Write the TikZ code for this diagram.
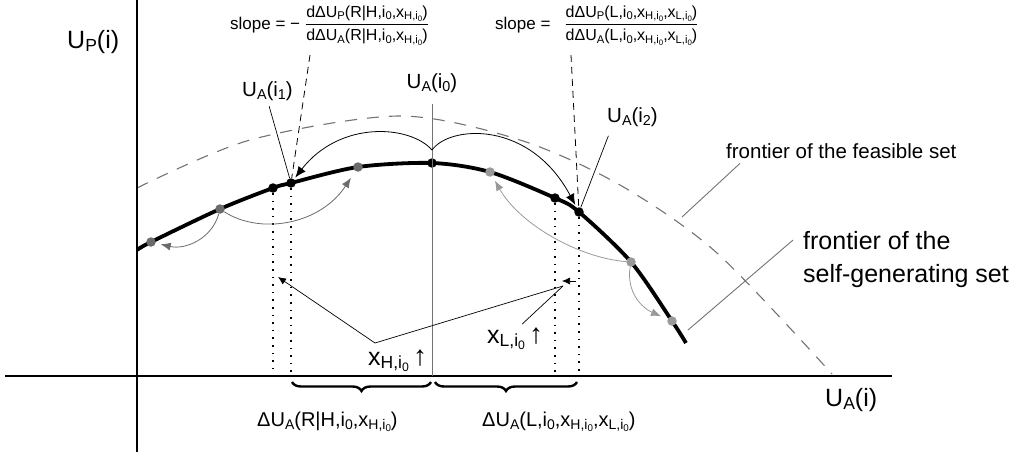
\documentclass[tikz,border=0pt]{standalone}
\usepackage{amsmath}
\usepackage{graphicx}
\usepackage{fontspec}
\setmainfont{Liberation Sans}
\usetikzlibrary{arrows.meta,decorations.pathreplacing,backgrounds}

\definecolor{dotdark}{gray}{0.42}
\definecolor{dotlight}{gray}{0.6}
\definecolor{linegray}{gray}{0.45}

\newcommand{\lo}[1]{\raisebox{-0.3ex}{\scalebox{0.7}{#1}}}
\newcommand{\fs}[1]{\fontsize{#1}{#1}\selectfont}

\begin{document}
\begin{tikzpicture}[x=1pt, y=-1pt,
    bdot/.style={circle, fill=black, inner sep=0pt, minimum size=9.5pt},
    gdot/.style={circle, fill=dotdark, inner sep=0pt, minimum size=9.5pt},
    ldot/.style={circle, fill=dotlight, inner sep=0pt, minimum size=9.5pt},
    axis/.style={line width=2.4pt},
    frontier/.style={line width=3.8pt, line join=round},
    feasible/.style={linegray, line width=1.1pt, dash pattern=on 12pt off 10pt},
    dotline/.style={line width=1.6pt, dash pattern=on 1.6pt off 6pt},
    hint/.style={line width=0.8pt, dash pattern=on 7pt off 5pt},
    jump/.style={-{Latex[length=11pt,width=9pt]}, line width=0.8pt},
    move/.style={-{Latex[length=10pt,width=8pt]}, line width=0.8pt},
    tip/.style={-{Latex[length=8pt,width=7pt]}, line width=0.7pt},
    pointer/.style={line width=0.7pt},
    gpointer/.style={linegray, line width=0.9pt},
    thinline/.style={linegray, line width=0.9pt},
    tag/.style={inner sep=0pt},
    brace/.style={decorate, decoration={brace, mirror, amplitude=9pt}, line width=2.4pt}
  ]
    \useasboundingbox (0,0) rectangle (1010,455);

    % Axes
    \coordinate (xa) at (5,376);
    \coordinate (xb) at (892,376);
    \coordinate (ya) at (137,0);
    \coordinate (yb) at (137,452);
    \draw[axis] (xa) -- (xb);
    \draw[axis] (ya) -- (yb);

    % Points on the frontier
    \node[gdot] (g1) at (151,242) {};
    \node[gdot] (g2) at (220,209) {};
    \node[bdot] (b1) at (273,188) {};
    \node[bdot] (b2) at (291,183) {};
    \node[gdot] (g3) at (358,167) {};
    \node[bdot] (top) at (432,163) {};
    \node[ldot] (g4) at (490,172) {};
    \node[bdot] (b3) at (555,198) {};
    \node[bdot] (b4) at (579,212) {};
    \node[ldot] (g5) at (631,262) {};
    \node[ldot] (g6) at (672,321) {};
    \coordinate (cs) at (137,250);
    \coordinate (ce) at (686,343);

    % Frontiers
    \begin{pgfonlayer}{background}
    \draw[feasible] plot[smooth] coordinates {(137,188) (250,140) (400,116) (520,140) (620,185) (717,253) (832,374)};
    \draw[frontier] plot[smooth] coordinates {(cs) (g1.center) (g2.center) (b1.center) (b2.center) (g3.center) (top.center) (g4.center) (b3.center) (b4.center) (g5.center) (g6.center) (ce)};
    \end{pgfonlayer}

    % Labels
    \node[tag, anchor=base west, font=\fs{25}] (up) at (67,48) {U\lo{P}(i)};
    \node[tag, anchor=base west, font=\fs{25}] (ua) at (825,406) {U\lo{A}(i)};
    \node[tag, anchor=base west, font=\fs{20.5}] (ui1) at (242,96) {U\lo{A}(i\lo{1})};
    \node[tag, anchor=base, font=\fs{20.5}] (ui0) at (432,88) {U\lo{A}(i\lo{0})};
    \node[tag, anchor=base west, font=\fs{20.5}] (ui2) at (607,122) {U\lo{A}(i\lo{2})};
    \node[tag, anchor=base west, font=\fs{20.5}] (feas) at (726,158) {frontier of the feasible set};
    \node[tag, anchor=base west, font=\fs{25}] (selfa) at (803,249) {frontier of the};
    \node[tag, anchor=base west, font=\fs{25}] (selfb) at (803,282) {self-generating set};
    \node[tag, anchor=base west, font=\fs{25}] (xh) at (368,365) {x\lo{H,i\lo{0}}\,{\fs{28}↑}};
    \node[tag, anchor=base west, font=\fs{25}] (xl) at (487,343) {x\lo{L,i\lo{0}}\,{\fs{28}↑}};
    \node[tag, anchor=base west, font=\fs{20}] (dh) at (257,426) {ΔU\lo{A}(R|H,i\lo{0},x\lo{H,i\lo{0}})};
    \node[tag, anchor=base west, font=\fs{20}] (dl) at (482,426) {ΔU\lo{A}(L,i\lo{0},x\lo{H,i\lo{0}},x\lo{L,i\lo{0}})};
    \node[tag, anchor=base west, font=\fs{17}] (sl1) at (230,29)
      {slope = −\hspace{5pt}{\fs{16}$\genfrac{}{}{0.9pt}{0}{\text{dΔU\lo{P}(R|H,i\lo{0},x\lo{H,i\lo{0}})}}{\text{dΔU\lo{A}(R|H,i\lo{0},x\lo{H,i\lo{0}})}}$}};
    \node[tag, anchor=base west, font=\fs{17}] (sl2) at (495,29)
      {slope =\hspace{14pt}{\fs{16}$\genfrac{}{}{0.9pt}{0}{\text{dΔU\lo{P}(L,i\lo{0},x\lo{H,i\lo{0}},x\lo{L,i\lo{0}})}}{\text{dΔU\lo{A}(L,i\lo{0},x\lo{H,i\lo{0}},x\lo{L,i\lo{0}})}}$}};

    % Label pointers
    \coordinate (d1) at (310,55);
    \coordinate (d2) at (571,55);
    \draw[hint] (d1) -- (b2);
    \draw[hint] (d2) -- (b4);
    \draw[pointer, shorten <=6pt] (ui1.south) -- (b2);
    \draw[pointer, shorten <=10pt] ([xshift=5pt]ui2.south west) -- (b4);
    \coordinate (fe) at (682,217);
    \coordinate (se) at (688,330);
    \draw[gpointer] ([xshift=14pt,yshift=-5pt]feas.south west) -- (fe);
    \draw[gpointer] ([xshift=-10pt]selfa.west) -- (se);

    % Reference line through i0 and dotted projections
    \draw[thinline] ([yshift=-12pt]ui0.south) -- (ui0.south |- xa);
    \draw[dotline] (b1) -- (b1 |- xa);
    \draw[dotline] (b2) -- (b2 |- xa);
    \draw[dotline] (b3) -- (b3 |- xa);
    \draw[dotline] (b4) -- (b4 |- xa);

    % Braces under the axis
    \coordinate (br1) at (b2 |- xa);
    \coordinate (br2) at (top |- xa);
    \coordinate (br3) at (b4 |- xa);
    \draw[brace] ([xshift=1pt,yshift=-6pt]br1) -- ([xshift=-1pt,yshift=-6pt]br2);
    \draw[brace] ([xshift=3pt,yshift=-6pt]br2) -- ([xshift=-2pt,yshift=-6pt]br3);

    % Jumps from i0
    \coordinate (jt) at ([yshift=13pt]top);
    \draw[jump, shorten >=2pt] (jt) .. controls +(-22,-25) and +(49,-63) .. (b2);
    \draw[jump, shorten >=3pt] (jt) .. controls +(18,-25) and +(-49,-92) .. (b4);

    % Gray moves along the frontier
    \draw[move, dotdark, shorten >=5pt] (g2) .. controls +(-8,30) and +(34,8) .. (g1);
    \draw[move, dotdark, shorten >=8pt] (g2) .. controls +(40,26) and +(-38,58) .. (g3);
    \draw[move, dotlight, shorten >=5pt] (g5) .. controls +(-51,-4) and +(30,53) .. (g4);
    \draw[move, dotlight, shorten >=7pt] (g5) .. controls +(-5,30) and +(-30,-13) .. (g6);

    % Effect of higher x
    \coordinate (hx) at (375,343);
    \coordinate (ah) at (278,277);
    \coordinate (al) at (563,286);
    \coordinate (sa) at (576,281);
    \coordinate (sb) at (562,281);
    \draw[tip] (hx) -- (ah);
    \draw[pointer] (hx) -- (al);
    \draw[pointer] ([xshift=7pt,yshift=3pt]xl.north) -- (al);
    \draw[tip] (sa) -- (sb);
\end{tikzpicture}
\end{document}
